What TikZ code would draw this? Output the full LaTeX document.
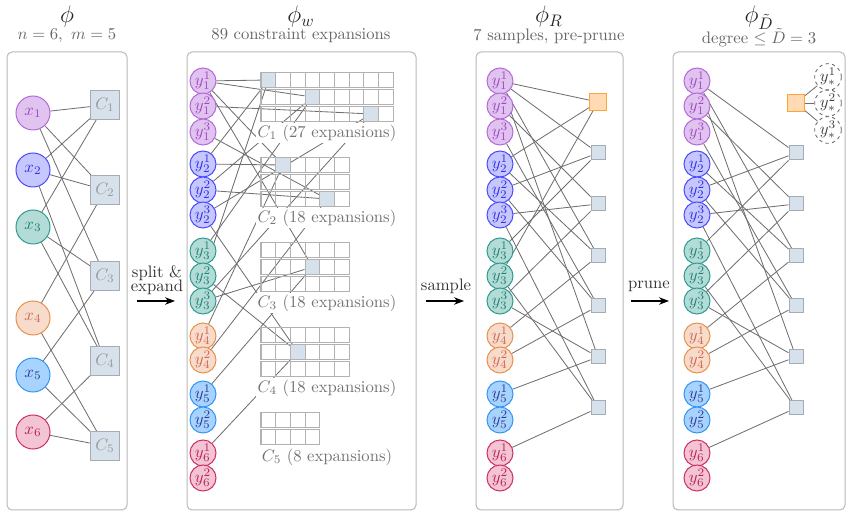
\documentclass[tikz,border=0pt]{standalone}
\usetikzlibrary{arrows.meta}

\definecolor{purpleFill}{HTML}{E0C3EE}
\definecolor{purpleLine}{HTML}{B56AD9}
\definecolor{purpleText}{HTML}{A145C6}
\definecolor{blueFill}{HTML}{C7C7FF}
\definecolor{blueLine}{HTML}{4B4BFF}
\definecolor{blueText}{HTML}{2E2EE6}
\definecolor{tealFill}{HTML}{B3DCD7}
\definecolor{tealLine}{HTML}{2F9B91}
\definecolor{tealText}{HTML}{217F77}
\definecolor{orangeFill}{HTML}{F7DBCB}
\definecolor{orangeLine}{HTML}{E8924F}
\definecolor{orangeText}{HTML}{D2644F}
\definecolor{skyFill}{HTML}{A9D3FF}
\definecolor{skyLine}{HTML}{3196F5}
\definecolor{skyText}{HTML}{283A8E}
\definecolor{pinkFill}{HTML}{F2C4D4}
\definecolor{pinkLine}{HTML}{D03063}
\definecolor{pinkText}{HTML}{BB2052}
\definecolor{conFill}{HTML}{D7E1EC}
\definecolor{conLine}{HTML}{A4ACB6}
\definecolor{sampFill}{HTML}{FFDAB3}
\definecolor{sampLine}{HTML}{FFA33B}
\definecolor{edgeGray}{HTML}{6F6F6F}

\pgfdeclarelayer{bg}
\pgfsetlayers{bg,main}

\tikzset{
  var/.style={circle, inner sep=0pt, line width=0.6pt},
  bigvar/.style={var, minimum size=20.4pt},
  smallvar/.style={var, minimum size=15.6pt},
  xc1/.style={fill=purpleFill, draw=purpleLine, text=purpleText},
  xc2/.style={fill=blueFill, draw=blueLine, text=blueText},
  xc3/.style={fill=tealFill, draw=tealLine, text=tealText},
  xc4/.style={fill=orangeFill, draw=orangeLine, text=orangeText},
  xc5/.style={fill=skyFill, draw=skyLine, text=skyText},
  xc6/.style={fill=pinkFill, draw=pinkLine, text=pinkText},
  con/.style={rectangle, minimum size=17.4pt, inner sep=0pt, fill=conFill, draw=conLine, text=black!40, line width=0.6pt},
  factor/.style={rectangle, minimum size=8.4pt, inner sep=0pt, fill=conFill, draw=conLine, line width=0.6pt},
  sampled/.style={rectangle, minimum size=10.2pt, inner sep=0pt, fill=sampFill, draw=sampLine, line width=0.6pt},
  cell/.style={rectangle, minimum width=8.82pt, minimum height=8.7pt, inner sep=0pt, draw=black!30, line width=0.7pt},
  hot/.style={cell, fill=conFill},
  grplabel/.style={fill=white, inner sep=1pt, text=black!55},
  edge/.style={draw=edgeGray, line width=0.5pt},
  panel/.style={draw=black!28, rounded corners=3pt, line width=0.6pt},
  title/.style={font=\Large, text=black!85},
  subtitle/.style={text=black!60},
  flow/.style={-{Stealth[length=6pt,width=4.5pt]}, line width=0.7pt},
  steplabel/.style={text=black!80, align=center},
  ystar/.style={circle, draw=black!60, dash pattern=on 2pt off 2pt, minimum size=16pt, inner sep=0pt, text=black!75, line width=0.5pt}
}

% value nodes: variable/value/height
\def\valnodes{1/1/81, 1/2/106, 1/3/132, 2/1/164, 2/2/190, 2/3/215, 3/1/251, 3/2/276, 3/3/301, 4/1/336, 4/2/360, 5/1/394, 5/2/420, 6/1/453, 6/2/478}
% sample/value node
\def\samples{1/11, 1/21, 1/32, 2/11, 2/22, 2/31, 3/12, 3/23, 3/33, 4/11, 4/21, 4/41, 5/13, 5/22, 5/42, 6/11, 6/33, 6/51, 7/23, 7/32, 7/61}

\begin{document}
\begin{tikzpicture}[x=0.6pt, y=-0.6pt]
    \useasboundingbox (0,0) rectangle (852,518);

    % titles
    \node[title] (t1) at (67,17) {$\phi$};
    \node[subtitle] (s1) at (67,36) {$n=6,\ m=5$};
    \node[title] (t2) at (301,17) {$\phi_w$};
    \node[subtitle] (s2) at (301,36) {89 constraint expansions};
    \node[title] (t3) at (549,17) {$\phi_R$};
    \node[subtitle] (s3) at (549,36) {7 samples, pre-prune};
    \node[title] (t4) at (759,18) {$\phi_{\tilde{D}}$};
    \node[subtitle] (s4) at (759,38) {degree $\leq \tilde{D}=3$};

    % panel 1
    \foreach \i/\yy in {1/113, 2/170, 3/227, 4/318, 5/375, 6/432}
        \node[bigvar, xc\i] (x\i) at (33,\yy) {$x_{\i}$};
    \foreach \j/\yy in {1/105, 2/190, 3/276, 4/361, 5/446}
        \node[con] (C\j) at (105,\yy) {$C_{\j}$};

    % panel 2: expansion grids
    \foreach \g/\nr/\nc/\yy in {1/3/9/80, 2/3/6/165, 3/3/6/250, 4/3/6/335, 5/2/4/420}
        \foreach \r in {1,...,\nr}
            \foreach \c in {1,...,\nc}
                \node[cell] (c\g-\r-\c) at ({261+14.7*(\c-0.5)}, {\yy+17*(\r-1)}) {};
    \foreach \s/\cellname in {1/c1-1-1, 2/c1-2-4, 3/c1-3-8, 4/c2-1-2, 5/c2-3-5, 6/c3-2-4, 7/c4-2-3}
        \node[hot] (hl\s) at (\cellname) {};
    \foreach \g/\cnt/\yy in {1/27/133, 2/18/218, 3/18/303, 4/18/388, 5/8/457}
        \node[grplabel] (L\g) at (327,\yy) {$C_{\g}$ (\cnt\ expansions)};

    % value nodes in panels 2, 3, 4
    \foreach \v/\k/\yy in \valnodes {
        \node[smallvar, xc\v] (w\v\k) at (203,\yy) {$y_{\v}^{\k}$};
        \node[smallvar, xc\v] (r\v\k) at (500,\yy) {$y_{\v}^{\k}$};
        \node[smallvar, xc\v] (d\v\k) at (697,\yy) {$y_{\v}^{\k}$};
    }

    % sampled factors
    \node[sampled] (rb1) at (598,102) {};
    \node[sampled] (db1) at (796,103) {};
    \foreach \s/\yy in {2/153, 3/204, 4/256, 5/306, 6/357, 7/408} {
        \node[factor] (rb\s) at (598,\yy) {};
        \node[factor] (db\s) at (796,\yy) {};
    }
    \foreach \k/\yy in {1/77, 2/103, 3/130}
        \node[ystar] (st\k) at (828,\yy) {$y_{*}^{\k}$};

    % arrows between panels
    \coordinate (a1) at (137,301);
    \coordinate (a2) at (175,301);
    \coordinate (b1) at (426,301);
    \coordinate (b2) at (464,301);
    \coordinate (p1) at (631,301);
    \coordinate (p2) at (669,301);
    \draw[flow] (a1) -- (a2);
    \draw[flow] (b1) -- (b2);
    \draw[flow] (p1) -- (p2);
    \node[steplabel] (la) at (157,280) {split \&\\[-4pt]expand};
    \node[steplabel] (lb) at (446,286) {sample};
    \node[steplabel] (lp) at (649,286) {prune};

    \begin{pgfonlayer}{bg}
        \draw[panel] (7,52) rectangle (127,510);
        \draw[panel] (187,52) rectangle (416,510);
        \draw[panel] (476,52) rectangle (623,510);
        \draw[panel] (673,52) rectangle (845,510);

        \foreach \a/\b in {1/1, 1/2, 1/3, 2/1, 2/2, 2/4, 3/1, 3/3, 3/4, 4/2, 4/5, 5/3, 5/5, 6/4, 6/5}
            \draw[edge] (x\a) -- (C\b);

        \foreach \s/\y in \samples {
            \draw[edge] (w\y) -- (hl\s);
            \draw[edge] (r\y) -- (rb\s);
            \ifnum\s>1 \draw[edge] (d\y) -- (db\s); \fi
        }
        \foreach \k in {1,2,3}
            \draw[edge] (db1) -- (st\k);
    \end{pgfonlayer}
\end{tikzpicture}
\end{document}
